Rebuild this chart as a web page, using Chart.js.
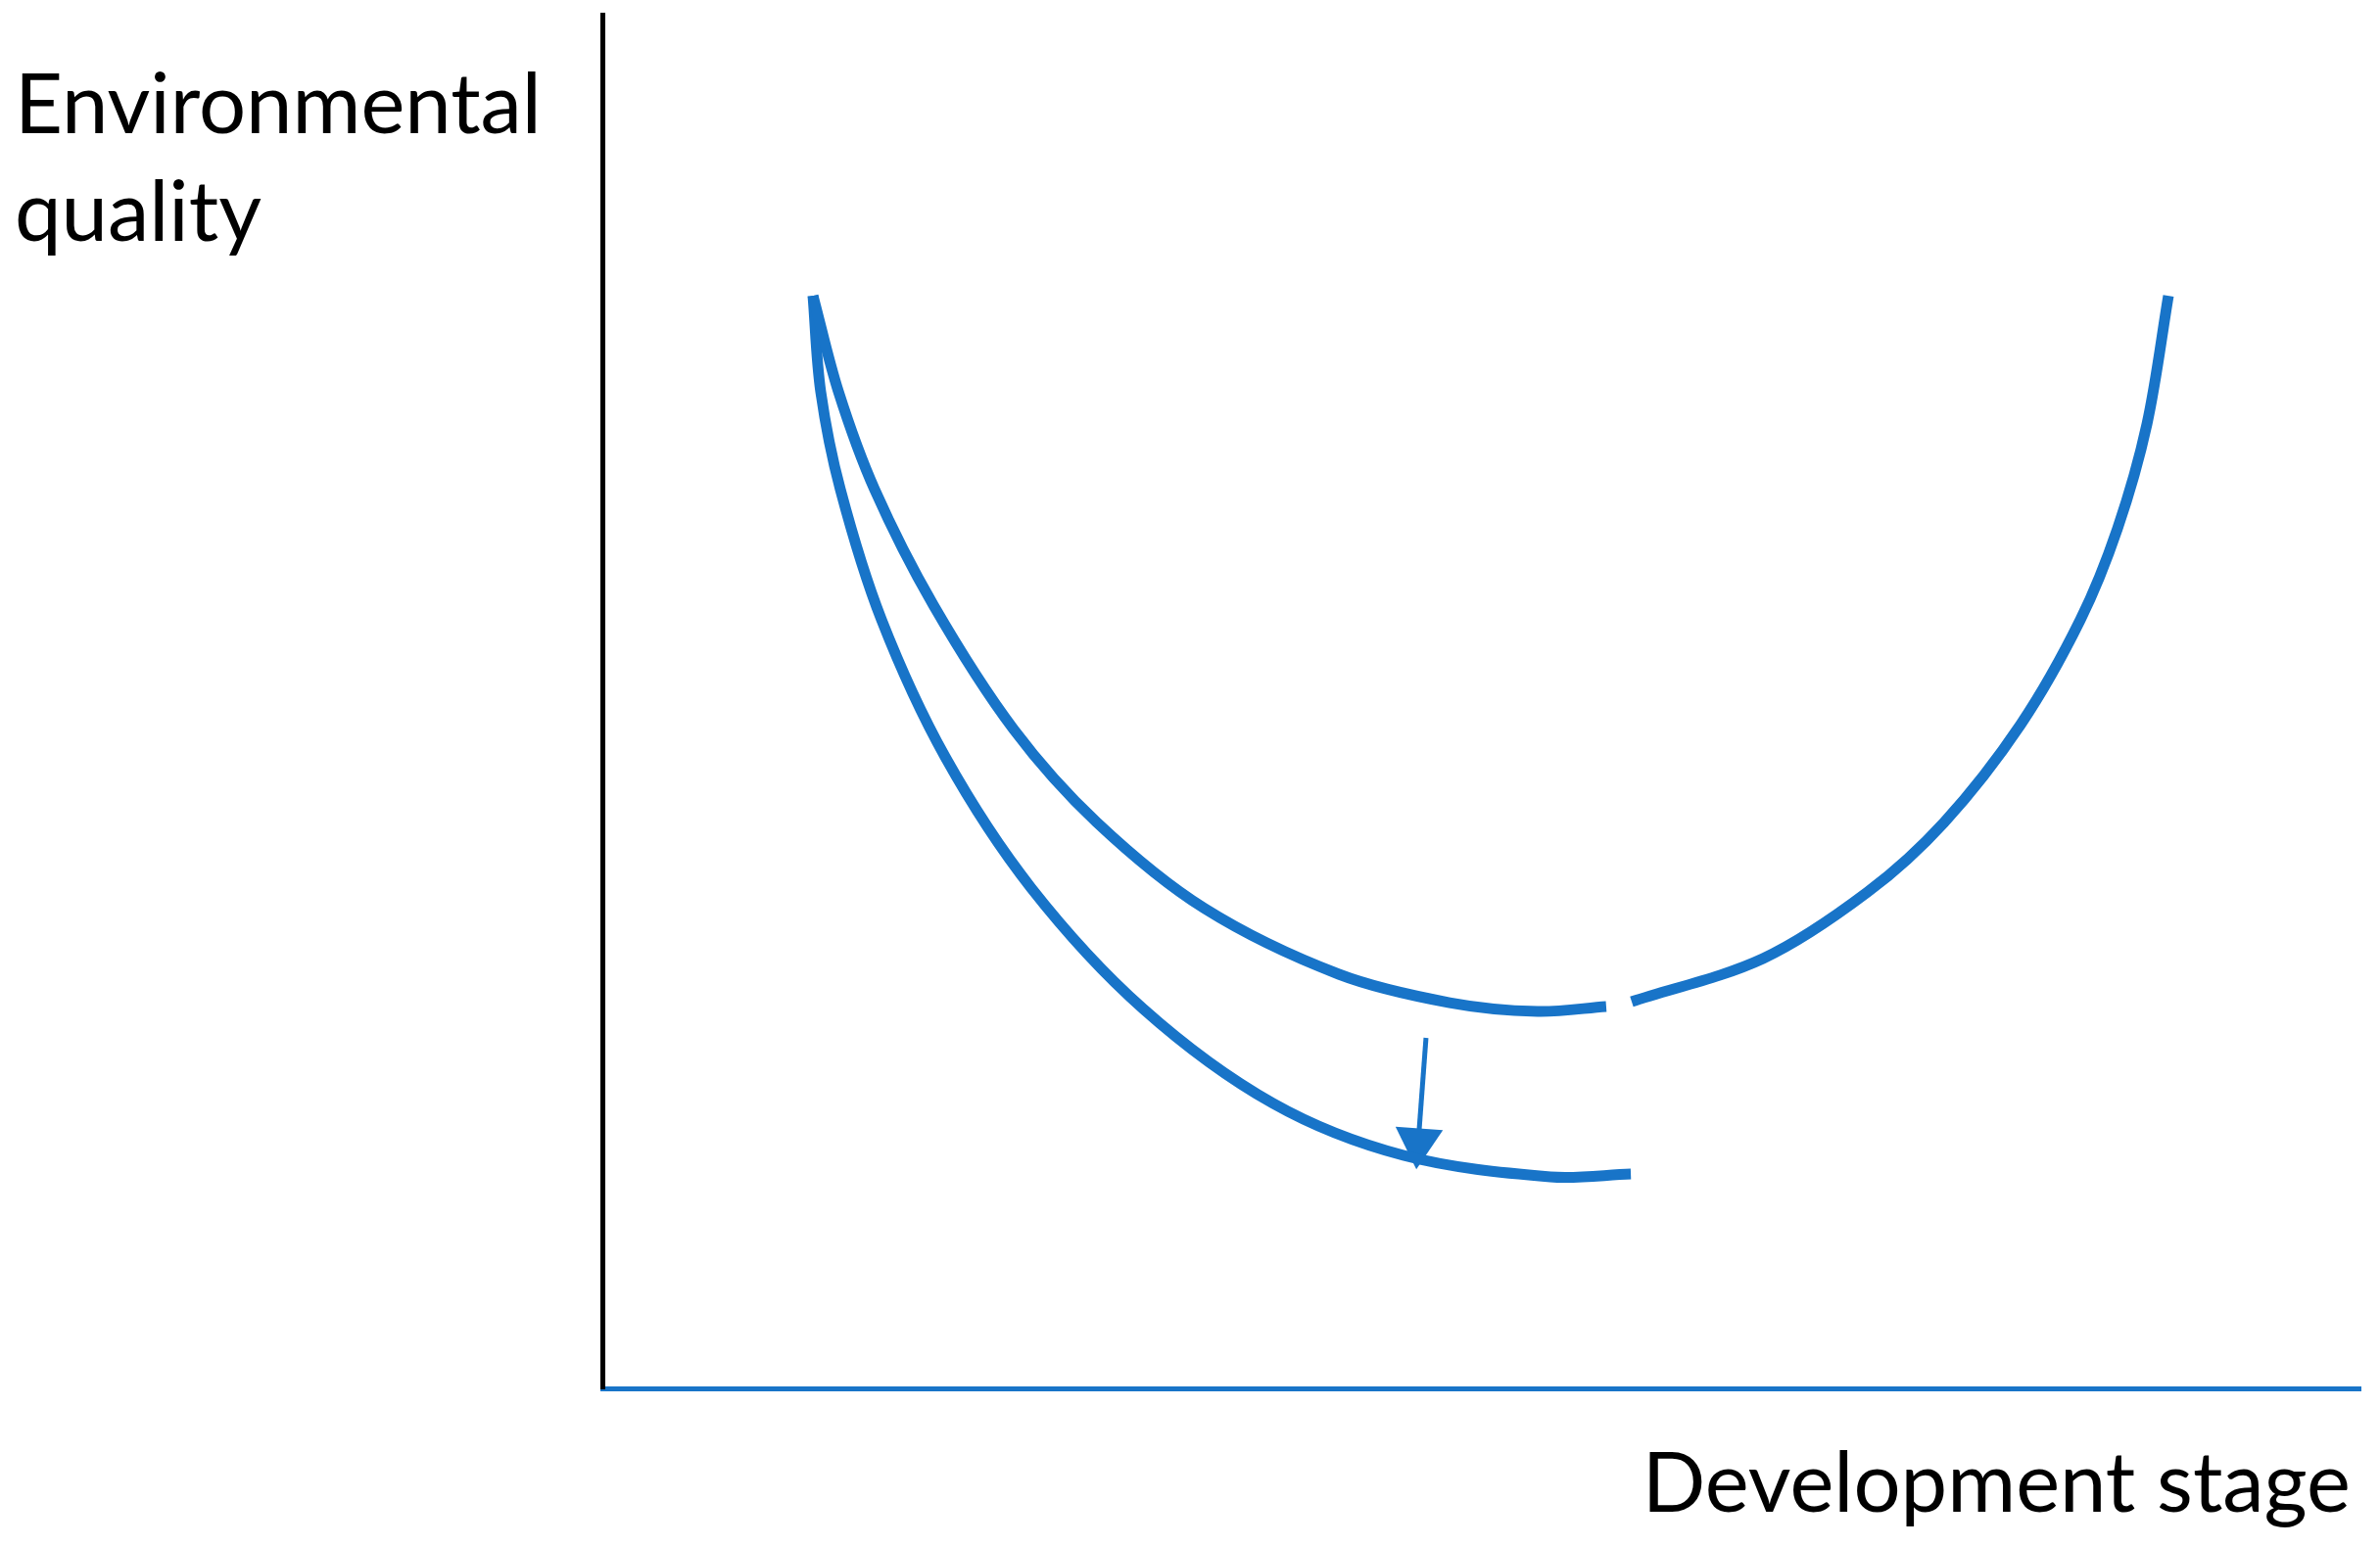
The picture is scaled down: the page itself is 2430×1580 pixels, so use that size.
<!DOCTYPE html>
<html>
<head>
<meta charset="utf-8">
<title>Environmental quality vs development stage</title>
<script src="https://cdn.jsdelivr.net/npm/chart.js@4.4.1/dist/chart.umd.min.js"></script>
<style>
    html, body { margin: 0; padding: 0; background: #ffffff; }
    #wrap { width: 2430px; height: 1580px; }
</style>
</head>
<body>
<div id="wrap"><canvas id="chartEkc" width="2430" height="1580"></canvas></div>
<script>
// Axis titles
const yTitleLines = ['Environmental', 'quality'];
const xTitle = 'Development stage';

// Upper curve (null = small break where the curve is interrupted)
const upperX = [11.98, 13.43, 15.49, 18.83, 23.40, 28.13, 34.26, 41.89, 48.19, 53.20, 57.10,
                57.80,
                58.55, 66.02, 71.98, 76.32, 80.67, 84.07, 86.18, 87.86, 89.08];
const upperY = [79.54, 72.56, 65.43, 57.02, 47.97, 41.20, 34.93, 30.15, 28.08, 27.44, 27.80,
                null,
                28.15, 31.29, 36.14, 41.20, 48.32, 55.95, 62.58, 70.21, 79.54];

// Lower (shifted) curve
const lowerX = [11.98, 12.42, 13.54, 15.88, 19.50, 24.40, 30.75, 38.16, 45.57, 53.93, 58.50];
const lowerY = [79.54, 72.56, 65.43, 55.95, 45.97, 36.42, 27.65, 20.74, 16.96, 15.40, 15.61];

// Arrow between the curves (start, head)
const arrowX = [46.85, 46.41];
const arrowY = [25.52, 17.93];

const BLUE = '#1874c8';

const toPoints = (xs, ys) => xs.map((x, i) => ({ x: x, y: ys[i] }));

/**
 * Axis titles drawn as free text (not rotated, placed like the original)
 */
const titlesPlugin = {
    id: 'freeTitles',
    afterDraw(chart) {
        const ctx = chart.ctx;
        ctx.save();
        // fit font size so "Environmental" spans the same width as the reference
        ctx.font = '100px Lato';
        const w = ctx.measureText(yTitleLines[0]).width;
        const size = 100 * 538 / w;
        ctx.font = `${size}px Lato`;
        ctx.fillStyle = '#000000';
        ctx.textBaseline = 'alphabetic';
        ctx.textAlign = 'left';
        ctx.fillText(yTitleLines[0], 15, 136);
        ctx.fillText(yTitleLines[1], 15, 246);
        ctx.textAlign = 'right';
        ctx.fillText(xTitle, 2400, 1544);
        ctx.restore();
    }
};

const ctx = document.getElementById('chartEkc').getContext('2d');
new Chart(ctx, {
    type: 'scatter',
    data: {
        datasets: [
            {
                label: 'Upper curve',
                data: toPoints(upperX, upperY),
                showLine: true,
                borderColor: BLUE,
                borderWidth: 11,
                borderCapStyle: 'butt',
                tension: 0.33,
                pointRadius: 0,
                spanGaps: false
            },
            {
                label: 'Lower curve',
                data: toPoints(lowerX, lowerY),
                showLine: true,
                borderColor: BLUE,
                borderWidth: 11,
                borderCapStyle: 'butt',
                tension: 0.33,
                pointRadius: 0
            },
            {
                label: 'Shift',
                data: toPoints(arrowX, arrowY),
                showLine: true,
                borderColor: BLUE,
                borderWidth: 5,
                borderCapStyle: 'butt',
                pointStyle: 'triangle',
                pointRadius: [0, 28],
                pointRotation: 184,
                pointBackgroundColor: BLUE,
                pointBorderWidth: 0
            }
        ]
    },
    options: {
        responsive: false,
        animation: false,
        events: [],
        layout: {
            autoPadding: false, // the arrow head would otherwise push the plot area in
            padding: { left: 615, right: 20, top: 15, bottom: 162 }
        },
        plugins: {
            legend: { display: false },
            tooltip: { enabled: false }
        },
        scales: {
            x: {
                type: 'linear',
                min: 0,
                max: 100,
                grid: { display: false, drawTicks: false },
                ticks: { display: false },
                border: { display: true, color: BLUE, width: 5 }
            },
            y: {
                type: 'linear',
                min: 0,
                max: 100,
                grid: { display: false, drawTicks: false },
                ticks: { display: false },
                border: { display: true, color: '#000000', width: 5 }
            }
        }
    },
    plugins: [titlesPlugin]
});
</script>
</body>
</html>
